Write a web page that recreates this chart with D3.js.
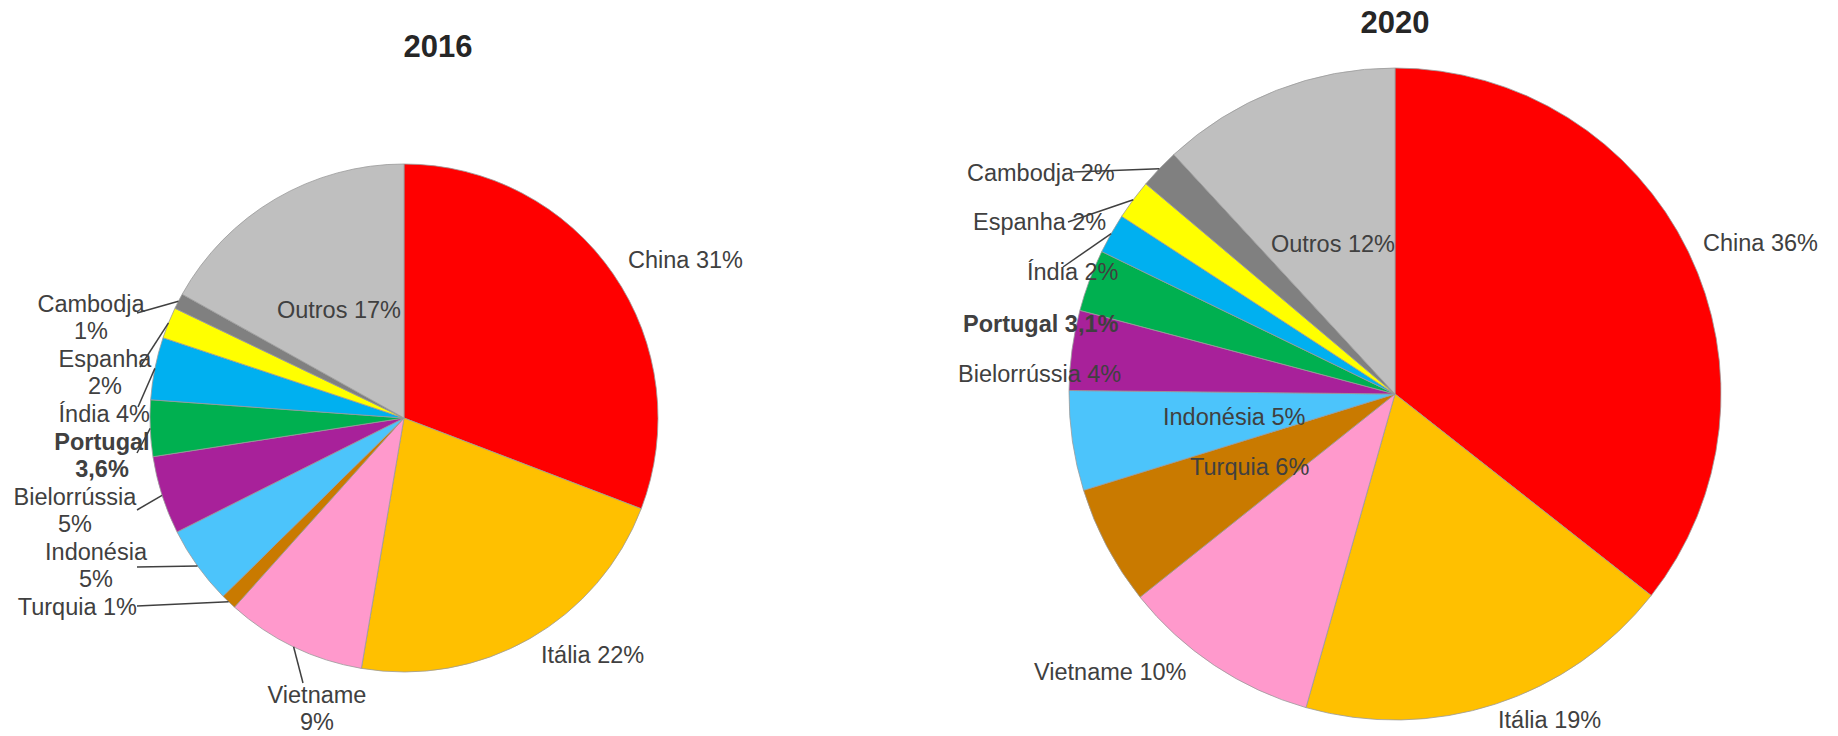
<!DOCTYPE html>
<html>
<head>
<meta charset="utf-8">
<script src="https://cdn.jsdelivr.net/npm/d3@7"></script>
<style>
  body { margin: 0; background: #fff; }
  svg { display: block; }
  .lbl { font-family: "Liberation Sans", Arial, sans-serif; font-size: 23.5px; fill: #404040; }
  .ttl { font-family: "Liberation Sans", Arial, sans-serif; font-size: 31px; font-weight: bold; fill: #262626; }
</style>
</head>
<body>
<script>
var width = 1838, height = 736

// data
var categories = ["China", "Itália", "Vietname", "Turquia", "Indonésia", "Bielorrússia",
    "Portugal", "Índia", "Espanha", "Cambodja", "Outros"]
var values2016 = [31, 22, 9, 1, 5, 5, 3.6, 4, 2, 1, 17]
var values2020 = [36, 19, 10, 6, 5, 4, 3.1, 2, 2, 2, 12]
var years = ["2016", "2020"]

var colors = ["#ff0000", "#ffc000", "#ff99cc", "#c97a00", "#4cc4fb", "#a8219a",
    "#00b050", "#00b0f0", "#ffff00", "#808080", "#bfbfbf"]

// label placement, relative to each pie centre (dx, dy = first baseline)
var layout2016 = [
    {dx: 224, dy: -150, anchor: "start"},
    {dx: 137, dy: 245, anchor: "start"},
    {dx: -87, dy: 285, anchor: "middle", split: true, leader: [-101, 265]},
    {dx: -267, dy: 197, anchor: "end", leader: [-267, 188]},
    {dx: -308, dy: 142, anchor: "middle", split: true, leader: [-267, 149]},
    {dx: -329, dy: 87, anchor: "middle", split: true, leader: [-267, 92]},
    {dx: -302, dy: 32, anchor: "middle", split: true, bold: true, leader: [-267, 35]},
    {dx: -254, dy: 4, anchor: "end", leader: [-266, -11]},
    {dx: -299, dy: -51, anchor: "middle", split: true, leader: [-264, -51]},
    {dx: -313, dy: -106, anchor: "middle", split: true, leader: [-267, -105]},
    {dx: -3, dy: -100, anchor: "end"}
]
var layout2020 = [
    {dx: 308, dy: -143, anchor: "start"},
    {dx: 103, dy: 334, anchor: "start"},
    {dx: -361, dy: 286, anchor: "start"},
    {dx: -205, dy: 81, anchor: "start"},
    {dx: -232, dy: 31, anchor: "start"},
    {dx: -437, dy: -12, anchor: "start"},
    {dx: -432, dy: -62, anchor: "start", bold: true},
    {dx: -368, dy: -114, anchor: "start", leader: [-332, -127]},
    {dx: -422, dy: -164, anchor: "start", leader: [-327, -172]},
    {dx: -428, dy: -213, anchor: "start", leader: [-322, -222]},
    {dx: 0, dy: -142, anchor: "end"}
]

var charts = [
    {title: years[0], values: values2016, layout: layout2016, cx: 404, cy: 418, r: 254, tx: 438, ty: 57},
    {title: years[1], values: values2020, layout: layout2020, cx: 1395, cy: 394, r: 326, tx: 1395, ty: 33}
]

var fmt = d3.formatLocale({decimal: ",", thousands: ".", grouping: [3], currency: ["", "€"]}).format("~r")

var svg = d3.select("body")
    .append("svg")
    .attr("width", width)
    .attr("height", height)

var pie = d3.pie().sort(null).value(function (d) { return d.value })

charts.forEach(function (c) {
    var rows = categories.map(function (name, i) {
        return {name: name, value: c.values[i], color: colors[i], lay: c.layout[i]}
    })
    var arcs = pie(rows)
    var arc = d3.arc().innerRadius(0).outerRadius(c.r)
    var edge = d3.arc().innerRadius(c.r).outerRadius(c.r)

    svg.append("text")
        .attr("class", "ttl")
        .attr("x", c.tx)
        .attr("y", c.ty)
        .attr("text-anchor", "middle")
        .text(c.title)

    var g = svg.append("g")
        .attr("transform", "translate(" + c.cx + "," + c.cy + ")")

    g.selectAll("path.slice")
        .data(arcs)
        .enter().append("path")
        .attr("class", "slice")
        .attr("d", arc)
        .attr("fill", function (d) { return d.data.color })
        .attr("stroke", "#9a9a9a")
        .attr("stroke-width", 0.8)

    // leader lines
    g.selectAll("line.leader")
        .data(arcs.filter(function (d) { return d.data.lay.leader }))
        .enter().append("line")
        .attr("class", "leader")
        .attr("x1", function (d) { return edge.centroid(d)[0] })
        .attr("y1", function (d) { return edge.centroid(d)[1] })
        .attr("x2", function (d) { return d.data.lay.leader[0] })
        .attr("y2", function (d) { return d.data.lay.leader[1] })
        .attr("stroke", "#404040")
        .attr("stroke-width", 1.5)

    // labels
    arcs.forEach(function (d) {
        var lay = d.data.lay
        var pct = fmt(d.data.value) + "%"
        var lines = lay.split ? [d.data.name, pct] : [d.data.name + " " + pct]
        var t = g.append("text")
            .attr("class", "lbl")
            .attr("text-anchor", lay.anchor)
            .style("font-weight", lay.bold ? "bold" : null)
        lines.forEach(function (s, k) {
            t.append("tspan")
                .attr("x", lay.dx)
                .attr("y", lay.dy + k * 27)
                .text(s)
        })
    })
})
</script>
</body>
</html>
